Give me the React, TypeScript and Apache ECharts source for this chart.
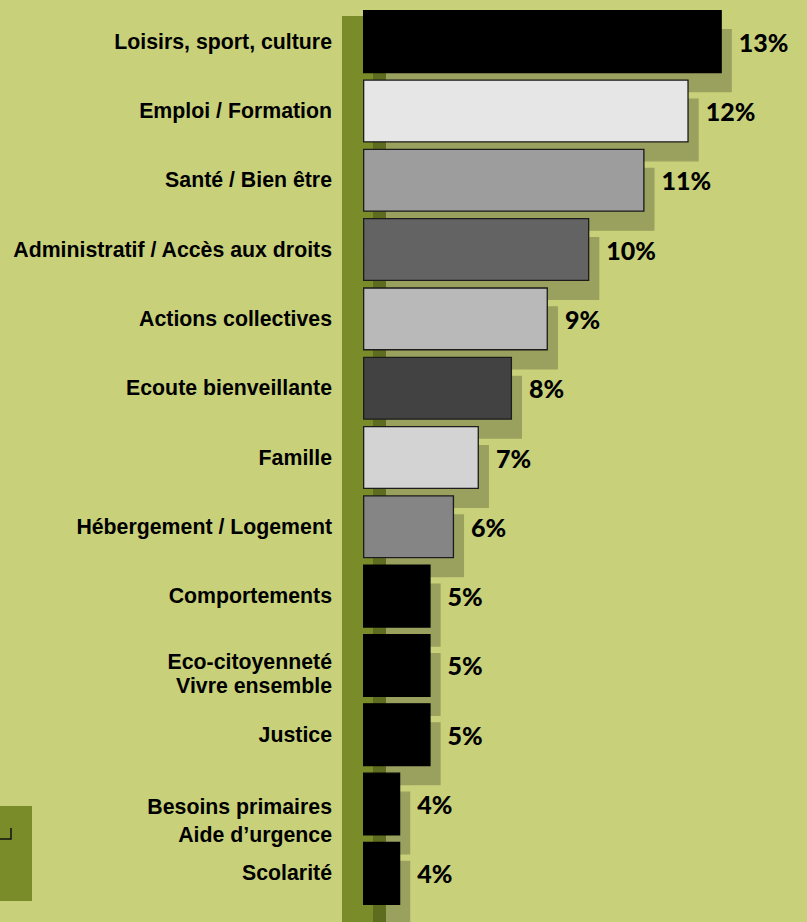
import React, { useEffect, useRef } from "react";
import * as echarts from "echarts";

// Categories, top to bottom
const categories: string[] = [
  "Loisirs, sport, culture",
  "Emploi / Formation",
  "Santé / Bien être",
  "Administratif / Accès aux droits",
  "Actions collectives",
  "Ecoute bienveillante",
  "Famille",
  "Hébergement / Logement",
  "Comportements",
  "Eco-citoyenneté\nVivre ensemble",
  "Justice",
  "Besoins primaires\nAide d’urgence",
  "Scolarité",
];

// Displayed shares (labels)
const shares: number[] = [13, 12, 11, 10, 9, 8, 7, 6, 5, 5, 5, 4, 4];

// Bar values (same units as the 13% bar)
const barValues: number[] = [13, 11.8, 10.2, 8.2, 6.7, 5.4, 4.2, 3.3, 2.45, 2.45, 2.45, 1.35, 1.35];

// Bar fill colours
const barColors: string[] = [
  "#000000",
  "#e6e6e6",
  "#9d9d9d",
  "#646464",
  "#b9b9b9",
  "#434343",
  "#d3d3d3",
  "#858585",
  "#000000",
  "#000000",
  "#000000",
  "#000000",
  "#000000",
];

const BG = "#c8d17a";
const OLIVE = "#7a8c2a";
const LABEL_FONT = "'Liberation Sans', Arial, sans-serif";

export default function App() {
  const ref = useRef<HTMLDivElement>(null);

  useEffect(() => {
    if (!ref.current) return;
    const chart = echarts.init(ref.current, undefined, { renderer: "svg" });

    const labelFormatter = (value: string, index: number) => {
      const lines = value.split("\n");
      if (lines.length === 1) return "{a|" + value + "}";
      if (index === 11) {
        return "{sp2| }\n" + lines.map((l) => "{b|" + l + "}").join("\n");
      }
      return "{sp1| }\n" + lines.map((l) => "{a|" + l + "}").join("\n");
    };

    const tokenBase = {
      color: "#000000",
      fontFamily: LABEL_FONT,
      fontWeight: "bold" as const,
      fontSize: 21.3,
    };

    chart.setOption({
      animation: false,
      backgroundColor: BG,
      graphic: [
        {
          type: "rect",
          z: -10,
          silent: true,
          shape: { x: 342, y: 16, width: 44, height: 906 },
          style: { fill: OLIVE },
        },
        {
          type: "rect",
          z: -10,
          silent: true,
          shape: { x: 0, y: 806, width: 32, height: 95 },
          style: { fill: OLIVE },
        },
        {
          type: "polyline",
          z: -9,
          silent: true,
          shape: { points: [[0, 839], [11, 839], [11, 828]] },
          style: { stroke: "#111111", lineWidth: 1.5, fill: "none" },
        },
      ],
      grid: { left: 363, right: 30, top: 7, bottom: 14, containLabel: false },
      xAxis: {
        type: "value",
        min: 0,
        max: 15,
        show: false,
        splitLine: { show: false },
      },
      yAxis: {
        type: "category",
        inverse: true,
        data: categories,
        axisLine: { show: false },
        axisTick: { show: false },
        splitLine: { show: false },
        axisLabel: {
          margin: 31,
          color: "#000000",
          fontFamily: LABEL_FONT,
          fontWeight: "bold",
          fontSize: 21.3,
          formatter: labelFormatter,
          rich: {
            a: { ...tokenBase, lineHeight: 24, align: "right" },
            b: { ...tokenBase, lineHeight: 28, align: "right" },
            sp1: { fontSize: 1, lineHeight: 18 },
            sp2: { fontSize: 1, lineHeight: 34 },
          },
        },
      },
      series: [
        {
          type: "bar",
          data: barValues.map((v, i) => ({
            value: v,
            itemStyle: {
              color: barColors[i],
              borderColor: barColors[i] === "#000000" ? "#000000" : "#1a1a1a",
              borderWidth: 1.3,
            },
          })),
          barCategoryGap: "9%",
          itemStyle: {
            shadowColor: "rgba(0,0,0,0.23)",
            shadowBlur: 0,
            shadowOffsetX: 10,
            shadowOffsetY: 19,
          },
          label: {
            show: true,
            position: "right",
            distance: 17,
            formatter: (p: any) => shares[p.dataIndex] + "%",
            color: "#000000",
            fontFamily: "Lato, 'DejaVu Sans', sans-serif",
            fontWeight: 900,
            fontSize: 25,
          },
        },
      ],
    });

    return () => chart.dispose();
  }, []);

  return <div ref={ref} style={{ width: 807, height: 922, position: "absolute", left: 0, top: 0 }} />;
}
